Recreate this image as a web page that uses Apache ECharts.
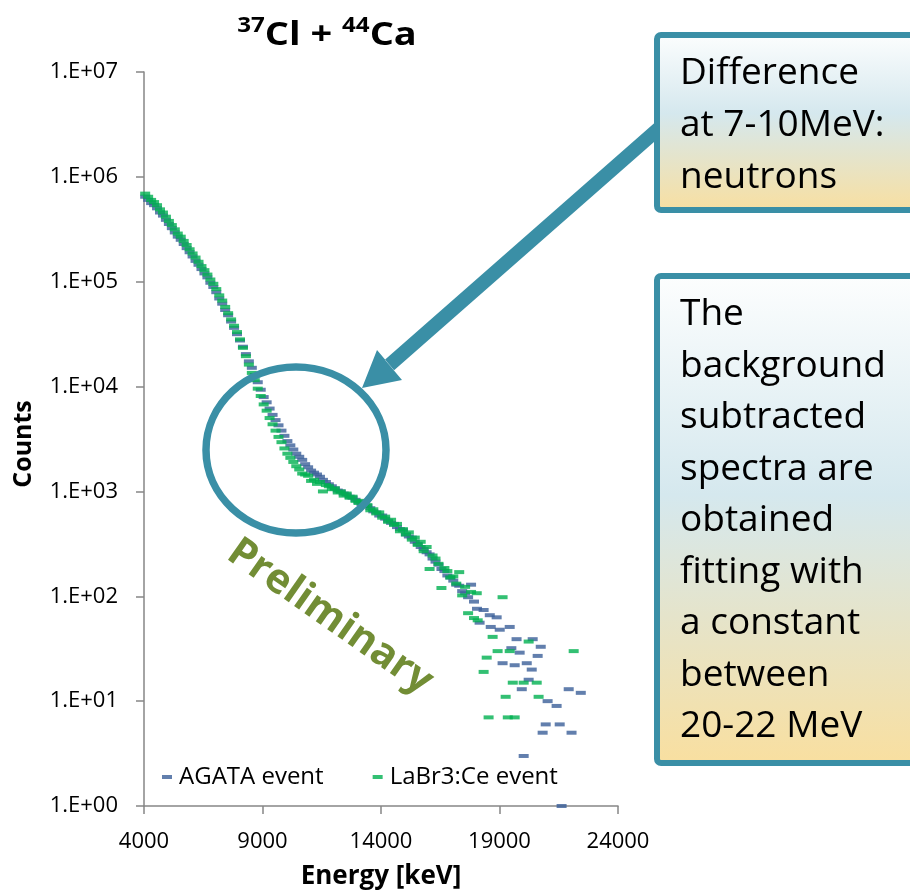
<!DOCTYPE html>
<html><head><meta charset="utf-8">
<script src="https://cdn.jsdelivr.net/npm/echarts@6/dist/echarts.min.js"></script>
<style>html,body{margin:0;padding:0;background:#fff}#c{width:910px;height:891px}</style>
</head><body><div id="c"></div>
<script>
// ---- data (energies in keV, counts) ----
const energies = [4050,4175,4300,4425,4550,4675,4800,4925,5050,5175,5300,5425,5550,5675,5800,5925,6050,6175,6300,6425,6550,6675,6800,6925,7050,7175,7300,7425,7550,7675,7800,7925,8050,8175,8300,8425,8550,8675,8800,8925,9050,9175,9300,9425,9550,9675,9800,9925,10050,10175,10300,10425,10550,10675,10800,10925,11050,11175,11300,11425,11550,11675,11800,11925,12050,12175,12300,12425,12550,12675,12800,12925,13050,13175,13300,13425,13550,13675,13800,13925,14050,14175,14300,14425,14550,14675,14800,14925,15050,15175,15300,15425,15550,15675,15800,15925,16050,16175,16300,16425,16550,16675,16800,16925,17050,17175,17300,17425,17550,17675,17800,17925];

const agataCounts = [646000,603000,562000,537000,501000,457000,427000,389000,355000,324000,295000,269000,251000,229000,209000,191000,174000,158000,145000,132000,120000,110000,97700,89100,79400,69200,61700,53700,47900,41700,36300,31600,27500,24000,20400,17400,15100,12900,11000,9330,7940,7080,6170,5370,4790,4270,3800,3390,3020,2750,2510,2290,2140,2000,1820,1700,1580,1510,1450,1380,1290,1230,1170,1120,1070,1020,1000,955,933,891,871,832,794,759,741,724,692,646,631,589,589,550,525,501,490,457,437,427,389,372,363,331,316,295,282,263,251,229,214,200,182,174,158,151,141,129,126,112,107,98,129,89];

const labrCounts = [692000,646000,603000,575000,537000,490000,457000,417000,380000,347000,316000,288000,269000,245000,224000,204000,186000,170000,155000,141000,129000,117000,105000,95500,85100,74100,66100,57500,50100,43700,38000,33100,28200,23400,19500,16200,13500,11500,9550,8130,6760,5890,5010,4370,3800,3310,2950,2570,2290,2090,1910,1740,1620,1480,1450,1410,1260,1290,1180,1230,1000,1150,1120,1050,1070,977,1000,912,955,871,891,813,776,813,724,741,661,676,617,631,562,575,513,537,479,490,417,437,389,407,347,363,309,331,269,295,182,245,229,204,120,186,174,151,155,132,170,102,123,69,110,62];

const agataTailEnergies = [18050,18160,18330,18590,18630,18880,19010,19130,19430,19500,19640,19720,19850,19940,20020,20150,20230,20360,20400,20610,20740,20820,20950,21030,21410,21540,21620,21920,22040,22430];
const agataTailCounts   = [76,56,74,66,51,63,48,23,51,32,22,39,29,13,3,23,16,20,39,27,33,5,6,10,9,6,1,13,5,12];

const labrTailEnergies = [18040,18080,18330,18460,18540,18710,18920,19130,19260,19350,19430,19560,19640,20020,20230,20570,20650,22130];
const labrTailCounts   = [107,59,19,26,7,41,30,98,11,7,30,15,7,15,37,15,11,30];

const seriesNames = ['AGATA event', 'LaBr3:Ce event'];
const yTickLabels = ['1.E+00','1.E+01','1.E+02','1.E+03','1.E+04','1.E+05','1.E+06','1.E+07'];

// ---- build ----
const F = "'Open Sans', 'DejaVu Sans', sans-serif";
const TEAL = '#3A8FA6';
function pairs(xs, ys){ return xs.map((x,i)=>[x, ys[i]]); }
const agataData = pairs(energies, agataCounts).concat(pairs(agataTailEnergies, agataTailCounts));
const labrData  = pairs(energies, labrCounts).concat(pairs(labrTailEnergies, labrTailCounts));

const boxFill = new echarts.graphic.LinearGradient(0,0,0,1,[
  {offset:0, color:'#FDFEFE'},{offset:0.45,color:'#D5E8EE'},{offset:1,color:'#F9DF9F'}]);

// arrow geometry
const ax = 657, ay = 130, bx = 389.5, by = 365, hw = 7;
const dx = bx-ax, dy = by-ay, L = Math.hypot(dx,dy), ux = dx/L, uy = dy/L, nx = -uy, ny = ux;
const sx = ax - ux*30, sy = ay - uy*30;
const arrowPts = [
  [sx - nx*hw, sy - ny*hw], [bx - nx*hw, by - ny*hw], [377,350], [362,388], [402,380],
  [bx + nx*hw, by + ny*hw], [sx + nx*hw, sy + ny*hw]
];

const chart = echarts.init(document.getElementById('c'), null, {renderer:'canvas'});
chart.setOption({
  animation:false,
  backgroundColor:'#fff',
  grid:{left:144, right:292, top:72, bottom:85, containLabel:false},
  legend:{
    left:157, top:760, itemWidth:10, itemHeight:4, itemGap:49, icon:'rect',
    data:seriesNames,
    textStyle:{fontFamily:F, fontSize:24, color:'#000', padding:[0,0,0,2]}
  },
  xAxis:{
    type:'value', min:4000, max:24000, interval:5000,
    axisLine:{show:true, onZero:false, lineStyle:{color:'#868686', width:1.5}},
    axisTick:{show:true, inside:false, length:8, lineStyle:{color:'#868686', width:1.5}},
    axisLabel:{fontFamily:F, fontSize:22, color:'#000', margin:25, formatter:function(v){ return String(v); }},
    splitLine:{show:false}
  },
  yAxis:{
    type:'log', logBase:10, min:1, max:10000000,
    axisLine:{show:true, lineStyle:{color:'#868686', width:1.5}},
    axisTick:{show:true, inside:false, length:8, lineStyle:{color:'#868686', width:1.5}},
    axisLabel:{fontFamily:F, fontSize:22, color:'#000', margin:26,
      formatter:function(v){ const e = Math.round(Math.log10(v)); return yTickLabels[e] || ''; }},
    splitLine:{show:false}, minorTick:{show:false}
  },
  series:[
    {name:seriesNames[0], type:'scatter', data:agataData, symbol:'rect', symbolSize:[10,4],
     itemStyle:{color:'#3B5F98'}, z:2},
    {name:seriesNames[1], type:'scatter', data:labrData, symbol:'rect', symbolSize:[10,4],
     itemStyle:{color:'#00B050'}, z:3}
  ],
  graphic:[
    {type:'text', x:327, y:36, scaleX:1.15, z:100, style:{
      text:'{s|37}{m|Cl + }{s|44}{m|Ca}', align:'center', verticalAlign:'middle',
      textAlign:'center', textVerticalAlign:'middle',
      rich:{
        s:{fontSize:21, fontWeight:'bold', fontFamily:F, lineHeight:22, verticalAlign:'top', fill:'#000', color:'#000'},
        m:{fontSize:33, fontWeight:'bold', fontFamily:F, lineHeight:40, fill:'#000', color:'#000'}
      }}},
    {type:'text', x:381, y:877, z:100, style:{text:'Energy [keV]', fontFamily:F, fontSize:26, fontWeight:'bold',
      fill:'#000', align:'center', verticalAlign:'middle', textAlign:'center', textVerticalAlign:'middle'}},
    {type:'text', x:24, y:444, rotation:Math.PI/2, z:100, style:{text:'Counts', fontFamily:F, fontSize:25, fontWeight:'bold',
      fill:'#000', align:'center', verticalAlign:'middle', textAlign:'center', textVerticalAlign:'middle'}},
    {type:'text', x:330, y:617, rotation:-35*Math.PI/180, z:100, style:{text:'Preliminary', fontFamily:F, fontSize:41, fontWeight:'bold',
      fill:'#728D35', align:'center', verticalAlign:'middle', textAlign:'center', textVerticalAlign:'middle'}},
    {type:'ellipse', z:100, shape:{cx:296, cy:450, rx:90, ry:83}, style:{fill:'none', stroke:TEAL, lineWidth:7.5}},
    {type:'polygon', z:100, shape:{points:arrowPts}, style:{fill:TEAL, stroke:null}},
    {type:'rect', z:101, shape:{x:657, y:35, width:280, height:175, r:4}, style:{fill:boxFill, stroke:TEAL, lineWidth:6}},
    {type:'rect', z:101, shape:{x:657, y:276, width:280, height:487, r:4}, style:{fill:boxFill, stroke:TEAL, lineWidth:6}},
    {type:'text', x:680, y:47, z:102, style:{text:'Difference\nat 7-10MeV:\nneutrons', fontFamily:F, fontSize:37, lineHeight:52,
      fill:'#000', align:'left', verticalAlign:'top', textAlign:'left', textVerticalAlign:'top'}},
    {type:'text', x:680, y:289, z:102, style:{text:'The\nbackground\nsubtracted\nspectra are\nobtained\nfitting with\na constant\nbetween\n20-22 MeV',
      fontFamily:F, fontSize:37, lineHeight:51.5,
      fill:'#000', align:'left', verticalAlign:'top', textAlign:'left', textVerticalAlign:'top'}}
  ]
});
</script></body></html>
